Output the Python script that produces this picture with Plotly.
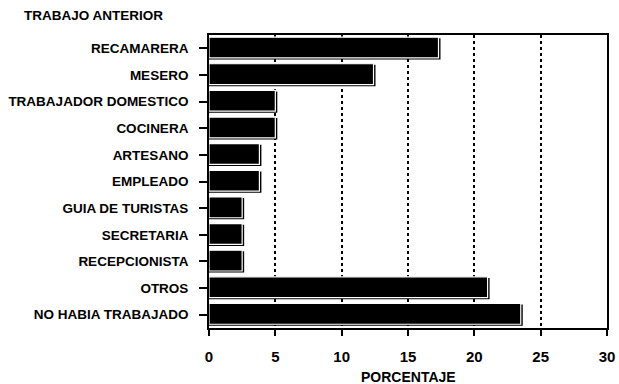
import plotly.graph_objects as go

categories = ["RECAMARERA", "MESERO", "TRABAJADOR DOMESTICO", "COCINERA", "ARTESANO",
              "EMPLEADO", "GUIA DE TURISTAS", "SECRETARIA", "RECEPCIONISTA", "OTROS",
              "NO HABIA TRABAJADO"]
values = [17.3, 12.4, 5.0, 5.0, 3.8, 3.8, 2.5, 2.5, 2.5, 21.0, 23.5]
x_ticks = [0, 5, 10, 15, 20, 25, 30]

FONT = "Liberation Sans, Arial, sans-serif"

W, H = 619, 384
L, R, T, B = 209, 12, 35, 56
PW, PH = W - L - R, H - T - B

fig = go.Figure()
# shadow / 3D edge
fig.add_trace(go.Bar(
    y=categories, x=[v + 0.15 for v in values], orientation="h",
    marker=dict(color="black", line=dict(width=0)),
    width=0.80, offset=-0.38, hoverinfo="skip", showlegend=False,
))
# main bar with white inset line
fig.add_trace(go.Bar(
    y=categories, x=values, orientation="h",
    marker=dict(color="black", line=dict(color="white", width=1.2)),
    width=0.78, offset=-0.42, showlegend=False,
))

fig.update_layout(
    width=W, height=H,
    margin=dict(l=L, r=R, t=T, b=B, autoexpand=False),
    paper_bgcolor="white", plot_bgcolor="white",
    barmode="overlay",
    font=dict(family=FONT, size=13, color="black"),
    annotations=[
        dict(text="<b>TRABAJO ANTERIOR</b>", x=(22 - L) / PW, y=(H - B - 15) / PH,
             xref="paper", yref="paper", xanchor="left", yanchor="middle",
             showarrow=False, font=dict(size=13.5, family=FONT)),
        dict(text="<b>PORCENTAJE</b>", x=0.5, y=(H - B - 377) / PH,
             xref="paper", yref="paper", xanchor="center", yanchor="middle",
             showarrow=False, font=dict(size=14, family=FONT)),
    ],
)

fig.update_xaxes(
    range=[0, 30], tickvals=x_ticks, ticktext=[f"<b>{t}</b>" for t in x_ticks],
    showgrid=True, gridcolor="black", griddash="dot", gridwidth=1.5,
    showline=True, linecolor="black", linewidth=1.8, mirror=True,
    ticks="outside", ticklen=6, tickcolor="black", tickwidth=1.5, zeroline=False,
    tickfont=dict(size=15, family=FONT), ticklabelstandoff=8, automargin=False,
)
fig.update_yaxes(
    categoryorder="array", categoryarray=categories, autorange="reversed",
    tickvals=categories, ticktext=[f"<b>{c}</b>" for c in categories],
    showline=True, linecolor="black", linewidth=1.8, mirror=True,
    ticks="outside", ticklen=8, tickcolor="black", tickwidth=1.5, showgrid=False,
    tickfont=dict(size=13.5, family=FONT), ticklabelstandoff=8, automargin=False,
)

fig.write_html(
    "out.html",
    config={"displayModeBar": False},
    post_script="document.body.style.margin='0';document.body.style.overflow='hidden';",
)
